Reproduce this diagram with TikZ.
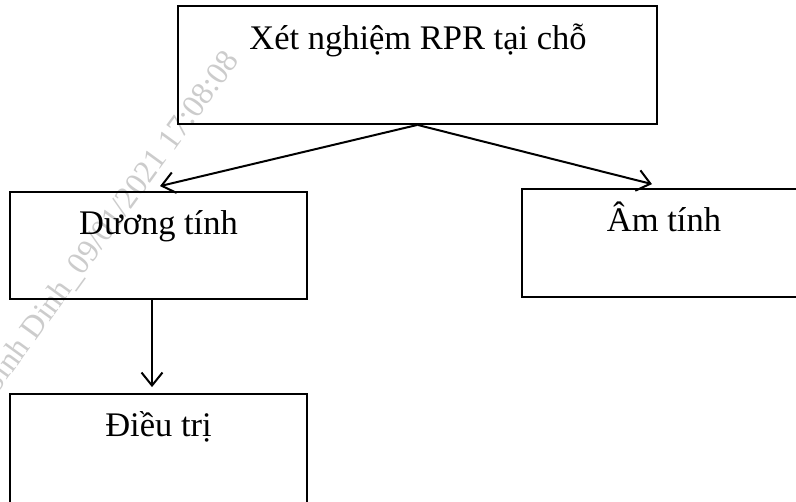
\documentclass[tikz,border=0pt]{standalone}
\usepackage{fontspec}
\setmainfont{Liberation Serif}
\usetikzlibrary{arrows.meta,calc}
\begin{document}
\begin{tikzpicture}[x=1pt,y=-1pt,
  box/.style={draw=black,line width=1.8pt,rectangle,inner sep=0pt},
  lbl/.style={anchor=base,inner sep=0pt,font=\fontsize{34.5}{41}\selectfont},
  conn/.style={line width=2pt,-{Straight Barb[length=13pt,width=21pt,line width=2pt]}},
  wm/.style={text=black!20,font=\fontsize{32}{38}\selectfont,inner sep=0pt}]
\useasboundingbox (0,0) rectangle (796,502);
\clip (0,0) rectangle (796,502);
\fill[white] (0,0) rectangle (796,502);
% watermark
\node[wm,anchor=base east,rotate=54] (wmark) at (240,60) {Sinh Dinh\_09/01/2021 17:08:08};
% boxes
\node[box,minimum width=479pt,minimum height=118pt] (top) at (417.5,65) {};
\node[box,minimum width=297pt,minimum height=107pt] (pos) at (158.5,245.5) {};
\node[box,minimum width=284pt,minimum height=108pt] (neg) at (664,243) {};
\node[box,minimum width=297pt,minimum height=112pt] (treat) at (158.5,450) {};
% labels
\node[lbl] (ttop) at (418,50) {Xét nghiệm RPR tại chỗ};
\node[lbl] (tpos) at (158.5,235) {Dương tính};
\node[lbl] (tneg) at (664,232) {Âm tính};
\node[lbl] (ttreat) at (158.5,437) {Điều trị};
% connectors
\coordinate (posin) at ($(pos.north)+(1.5,-5)$);
\coordinate (negin) at ($(neg.north)+(-12,-4)$);
\coordinate (treatin) at ($(treat.north)+(-6.5,-6)$);
\coordinate (posout) at ($(pos.south)+(-6.5,0)$);
\draw[conn] (top.south) -- (posin);
\draw[conn] (top.south) -- (negin);
\draw[conn] (posout) -- (treatin);
\end{tikzpicture}
\end{document}
